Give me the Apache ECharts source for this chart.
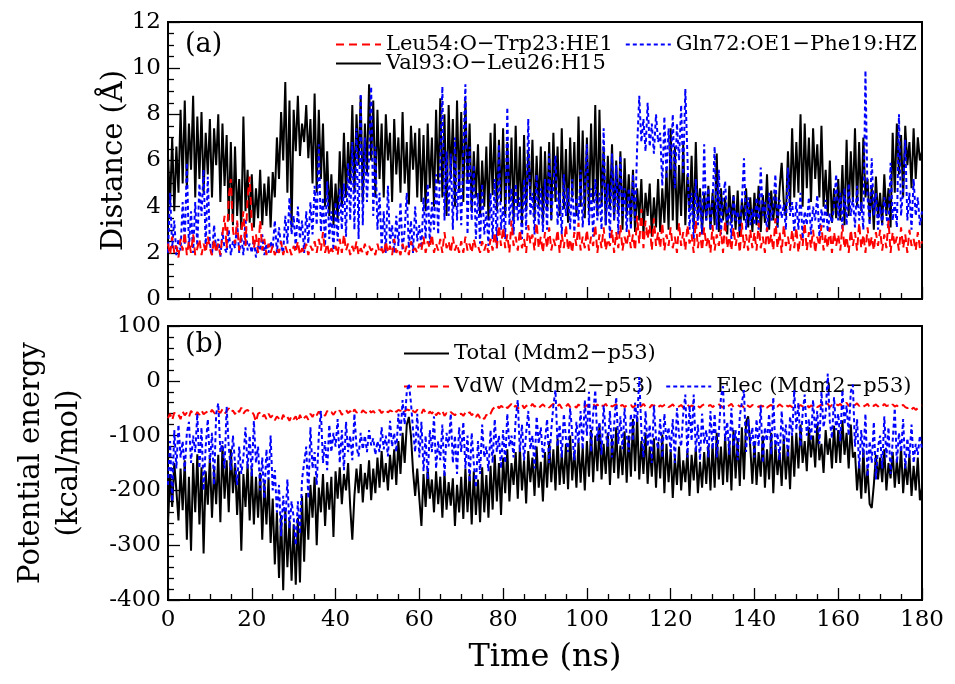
<!DOCTYPE html>
<html>
<head>
<meta charset="utf-8">
<script src="https://cdn.jsdelivr.net/npm/echarts@6/dist/echarts.min.js"></script>
<style>
html,body{margin:0;padding:0;background:#fff;}
#chart{width:955px;height:684px;}
</style>
</head>
<body>
<div id="chart"></div>
<script>
// time step (ns) between stored samples
const timeStep = 0.5;

// Panel (a): distances (Å), sampled every 0.5 ns from 0 to 180 ns
const valDist = [
6.2,4.1,7.0,3.8,6.6,4.6,8.2,5.0,8.6,4.8,7.6,5.6,8.8,4.4,7.9,5.2,8.1,4.6,7.2,5.4,
7.8,4.4,7.4,5.8,8.0,4.2,7.6,4.9,7.1,3.4,6.8,3.2,6.6,3.6,5.2,3.0,7.9,3.8,5.6,3.3,
5.4,3.1,4.8,3.5,5.6,3.2,5.0,3.6,5.3,3.1,5.5,4.4,7.0,5.2,8.1,6.0,9.4,4.6,8.6,3.1,
8.2,6.4,8.8,6.2,7.6,6.8,8.4,6.1,7.8,5.0,8.9,4.6,8.2,5.2,7.6,4.0,6.4,3.6,5.4,3.2,
5.0,3.4,6.4,4.0,7.2,4.4,6.8,5.0,8.4,4.6,8.0,5.8,8.8,4.2,7.6,5.4,9.3,6.0,8.6,4.4,
8.2,5.2,7.6,4.4,8.0,6.0,7.2,4.2,7.8,5.4,7.0,4.6,8.1,5.0,6.8,4.1,7.5,5.6,7.2,4.4,
7.4,4.2,7.1,3.8,7.6,4.8,7.0,4.0,8.2,5.0,8.7,4.4,8.0,3.6,8.4,5.2,7.8,4.0,8.6,4.6,
8.1,4.2,8.6,5.0,7.6,3.8,6.4,4.4,6.7,3.6,6.0,4.0,6.6,3.4,7.2,4.5,7.6,3.8,6.9,4.2,
7.4,3.6,6.8,4.2,7.0,3.4,7.5,4.0,6.6,3.2,7.1,3.8,6.4,4.4,6.9,3.5,6.2,4.0,6.6,3.3,
6.4,3.8,6.8,3.4,7.2,4.2,6.6,3.6,7.4,3.9,6.5,3.3,7.0,4.4,6.8,3.6,7.9,4.0,7.3,3.5,
7.0,3.8,7.6,4.2,8.4,3.6,8.2,4.0,6.6,3.2,6.2,3.9,6.7,3.4,6.0,3.7,6.4,3.0,6.1,3.6,
5.4,3.2,5.6,2.9,4.8,3.4,5.2,2.8,4.6,3.6,5.0,2.7,4.4,3.1,5.2,2.9,4.8,3.3,5.6,3.0,
7.4,3.4,6.6,3.0,5.8,3.6,6.7,3.2,5.4,3.8,6.2,3.1,6.8,3.5,4.8,2.9,4.6,3.4,4.9,3.0,
4.6,3.2,6.3,2.9,4.8,3.4,4.4,2.8,4.9,3.3,4.5,3.0,4.7,2.7,4.3,3.4,4.8,3.1,4.4,2.9,
4.6,3.2,4.9,2.9,4.5,3.3,5.4,3.0,4.7,3.4,4.6,3.1,4.8,5.9,4.2,3.6,6.4,4.0,7.4,4.4,
6.8,4.6,8.0,4.0,7.6,4.8,7.0,4.2,7.4,5.2,6.7,4.4,7.5,4.0,5.6,3.6,6.0,3.3,4.8,3.5,
5.2,3.4,5.8,3.2,6.9,3.6,6.4,4.2,7.4,4.0,6.8,3.8,7.0,4.4,5.2,3.4,4.9,3.0,5.3,3.5,
4.6,3.2,5.4,3.6,4.8,3.1,7.2,4.6,7.6,5.4,7.1,4.4,7.5,5.8,6.8,4.8,7.4,5.2,7.0,6.0,
6.4];

const glnDist = [
2.0,4.6,2.2,3.4,1.9,2.6,2.1,4.2,2.4,5.9,2.2,3.8,2.0,4.2,2.3,5.0,3.6,5.6,2.2,5.3,
2.4,1.9,3.2,2.1,2.6,1.8,2.9,2.2,2.0,3.0,1.9,2.5,2.2,3.3,2.0,2.7,1.9,3.5,2.1,2.4,
2.0,2.6,1.8,2.3,2.1,2.8,1.9,2.4,2.0,2.5,2.2,3.4,2.0,3.1,2.3,2.0,3.6,2.4,4.4,2.8,
3.6,2.2,4.0,2.6,3.4,2.0,3.8,2.4,4.2,2.8,4.9,3.2,6.7,2.9,4.4,2.3,5.1,2.6,3.8,2.1,
4.2,2.5,4.8,3.0,5.0,2.7,5.9,3.4,6.8,3.0,7.4,2.6,8.9,3.2,7.0,4.2,6.2,9.2,3.6,6.6,
3.0,4.6,2.2,3.8,2.0,4.9,2.4,3.2,2.0,3.6,2.3,4.2,2.1,3.0,4.6,2.2,3.4,2.0,4.0,2.5,
3.2,2.2,4.4,2.6,5.0,2.4,4.2,3.0,5.4,2.8,6.0,9.2,3.4,6.4,3.6,6.3,3.0,7.0,3.4,5.6,
3.2,6.4,9.3,2.8,6.6,3.4,5.8,2.6,4.6,2.4,5.0,2.8,3.8,2.3,4.6,2.6,5.2,2.2,6.7,3.0,
4.0,2.6,8.3,3.2,4.8,2.8,5.0,3.4,4.4,2.6,5.2,3.0,7.8,3.6,4.6,2.8,5.4,3.2,4.8,2.9,
5.2,3.0,6.3,3.4,5.0,6.2,3.2,4.6,2.8,5.4,3.6,4.8,3.0,5.2,2.9,4.4,3.4,5.6,3.1,4.8,
6.7,3.2,4.8,2.7,5.2,3.4,4.6,3.0,7.4,3.2,5.0,2.6,6.3,3.4,5.8,2.8,6.2,3.6,4.8,2.9,
4.8,3.0,5.4,3.4,6.6,8.8,6.8,7.8,6.4,8.5,6.6,7.6,6.3,8.0,6.8,7.2,4.9,7.9,5.2,7.4,
5.6,8.0,4.8,7.6,6.0,8.4,5.4,9.1,6.2,3.0,4.6,2.6,5.2,3.2,4.4,2.8,6.7,3.4,4.8,3.0,
4.2,6.6,3.0,5.6,2.8,4.4,5.1,3.2,4.0,2.6,4.5,3.4,3.8,2.9,4.2,6.1,3.0,4.4,3.2,3.9,
3.2,4.4,3.0,5.7,3.6,4.2,2.9,4.6,3.4,4.0,5.4,3.1,4.3,3.5,4.1,3.0,5.7,3.6,4.2,2.9,
4.2,3.0,4.6,2.6,3.8,3.2,4.4,2.8,4.0,3.4,4.5,2.7,3.9,3.1,4.3,2.9,3.7,3.3,4.0,5.4,
3.4,4.6,3.0,4.8,3.2,5.0,3.6,4.4,3.1,4.9,3.4,4.2,3.0,9.9,4.4,3.2,6.1,3.6,4.6,3.0,
4.0,3.2,4.4,3.6,3.0,5.9,3.4,4.2,3.1,8.0,3.6,4.8,6.9,3.4,4.6,3.0,5.2,3.6,4.4,3.2,
3.8];

const leuDist = [
2.4,1.9,2.7,2.0,2.3,1.8,2.6,2.1,2.9,1.9,2.5,2.0,2.8,1.9,2.2,2.6,1.9,2.4,2.0,2.7,
2.2,1.9,2.6,2.0,2.4,1.9,2.8,3.6,2.2,4.4,5.2,3.0,2.4,3.4,2.1,2.8,3.8,2.3,4.4,5.3,
3.2,2.2,2.8,2.0,3.4,2.1,2.6,1.9,2.4,2.0,2.3,1.9,2.2,2.0,2.5,1.9,2.3,2.0,2.2,1.9,
2.3,2.0,2.5,1.9,2.2,2.0,2.4,1.9,2.3,2.1,2.5,2.0,2.6,2.1,2.9,2.0,2.4,1.9,2.2,2.0,
2.3,1.9,2.6,2.0,2.8,2.1,2.4,1.9,2.3,2.0,2.5,1.9,2.2,2.0,2.4,1.9,2.3,2.1,2.2,1.9,
2.4,2.0,2.2,1.9,2.5,2.0,2.3,1.9,2.6,2.0,2.2,1.9,2.4,2.0,2.3,1.9,2.5,2.1,2.2,2.0,
2.4,2.1,2.7,2.0,2.5,2.2,2.8,2.0,2.4,2.1,2.6,2.0,2.9,2.2,2.5,2.0,2.7,2.1,2.4,2.0,
2.5,2.0,2.7,2.1,2.4,2.0,2.6,2.2,2.3,2.0,2.5,2.1,2.4,2.0,2.6,2.1,2.9,2.2,3.2,2.3,
3.1,2.2,2.8,2.0,3.4,2.3,2.7,2.1,3.0,2.2,2.6,2.0,3.2,2.4,2.8,2.1,3.3,2.2,2.7,2.0,
2.9,2.2,3.1,2.1,2.6,2.3,3.0,2.0,2.8,2.2,3.2,2.1,2.6,2.0,2.9,2.3,3.3,2.1,2.7,2.2,
3.0,2.1,2.7,2.3,3.2,2.0,2.8,2.2,3.1,2.1,2.6,2.3,3.0,2.0,2.9,2.2,3.2,2.1,2.7,2.3,
3.0,2.2,2.8,2.1,3.6,2.4,3.9,2.2,3.4,2.6,3.2,2.1,3.5,2.3,2.9,2.2,3.3,2.1,2.8,2.3,
3.1,2.2,2.7,2.0,3.3,2.3,2.9,2.1,3.2,2.4,2.8,2.0,3.4,2.2,2.9,2.1,3.1,2.3,2.7,2.0,
3.2,2.1,2.8,2.3,3.0,2.0,3.4,2.2,2.7,2.1,3.1,2.3,2.9,2.0,3.3,2.2,2.8,2.1,3.0,2.2,
2.9,2.1,3.3,2.2,2.7,2.0,3.1,2.3,2.8,2.1,3.5,2.2,2.9,2.0,3.2,2.3,2.7,2.1,3.0,2.2,
3.1,2.0,2.8,2.3,3.3,2.1,2.9,2.2,3.0,2.0,2.7,2.3,3.2,2.1,2.8,2.2,3.1,2.0,2.9,2.3,
2.8,2.1,3.2,2.2,2.7,2.0,3.0,2.3,2.9,2.1,3.3,2.2,2.8,2.0,3.1,2.2,2.7,2.1,2.9,2.3,
3.0,2.1,2.8,2.2,3.4,2.0,2.9,2.3,2.7,2.1,3.1,2.2,2.8,2.0,3.0,2.3,2.6,2.1,2.9,2.2,
2.5];

// Panel (b): potential energies (kcal/mol), sampled every 0.5 ns
const totalE = [
-262,-170,-230,-150,-200,-255,-160,-236,-145,-290,-175,-310,-150,-240,-134,-262,-158,-315,-165,-226,
-140,-250,-160,-225,-135,-258,-118,-215,-145,-240,-125,-205,-150,-245,-165,-310,-170,-230,-152,-255,
-160,-262,-175,-250,-168,-290,-185,-262,-178,-296,-215,-335,-240,-360,-245,-382,-232,-340,-255,-365,
-262,-372,-250,-368,-210,-330,-205,-290,-190,-250,-175,-300,-195,-240,-170,-265,-185,-235,-175,-285,
-165,-215,-158,-225,-170,-200,-150,-230,-290,-210,-160,-205,-152,-222,-168,-198,-145,-218,-160,-205,
-140,-195,-128,-185,-150,-200,-135,-180,-125,-190,-110,-170,-95,-150,-80,-66,-100,-165,-210,-160,
-215,-265,-170,-230,-160,-215,-180,-240,-165,-225,-175,-250,-168,-235,-185,-228,-178,-265,-190,-240,
-175,-252,-160,-240,-170,-262,-165,-245,-180,-258,-158,-240,-172,-250,-155,-235,-135,-220,-150,-245,
-140,-205,-125,-220,-150,-190,-130,-215,-122,-200,-145,-224,-128,-185,-140,-210,-120,-195,-148,-220,
-130,-195,-110,-185,-125,-200,-105,-190,-132,-188,-115,-198,-100,-182,-128,-195,-112,-186,-120,-200,
-110,-175,-90,-185,-100,-165,-80,-180,-115,-170,-95,-190,-105,-168,-85,-178,-118,-172,-92,-186,
-100,-175,-70,-165,-65,-180,-110,-170,-95,-188,-120,-175,-105,-195,-112,-178,-98,-205,-115,-185,
-125,-214,-140,-190,-120,-200,-145,-185,-128,-210,-135,-182,-122,-205,-148,-195,-130,-188,-118,-200,
-115,-195,-95,-180,-120,-190,-100,-185,-110,-200,-90,-178,-105,-192,-85,-180,-75,-65,-120,-188,
-110,-190,-130,-175,-100,-195,-125,-180,-95,-205,-115,-172,-130,-192,-105,-180,-120,-198,-100,-175,
-95,-160,-80,-150,-110,-165,-85,-140,-100,-158,-78,-145,-115,-168,-90,-135,-105,-160,-82,-150,
-90,-150,-72,-135,-95,-160,-80,-140,-130,-200,-150,-215,-125,-205,-160,-225,-232,-190,-135,-180,
-140,-185,-125,-200,-150,-178,-130,-195,-145,-188,-120,-205,-150,-190,-135,-210,-155,-200,-140,-218,
-195];

const vdwE = [
-68,-60,-72,-58,-64,-62,-70,-56,-63,-58,-66,-55,-60,-64,-57,-62,-54,-61,-58,-56,
-60,-53,-58,-62,-55,-59,-52,-60,-56,-50,-58,-54,-61,-52,-57,-49,-60,-55,-53,-58,
-56,-62,-75,-60,-58,-66,-62,-70,-60,-67,-63,-72,-65,-69,-74,-62,-70,-66,-73,-64,
-70,-65,-75,-62,-72,-68,-64,-71,-60,-66,-58,-63,-56,-61,-58,-64,-55,-60,-57,-62,
-56,-60,-54,-62,-57,-53,-59,-55,-61,-52,-58,-56,-60,-54,-57,-59,-53,-58,-55,-60,
-57,-53,-59,-55,-52,-58,-54,-56,-51,-57,-53,-55,-50,-56,-52,-54,-49,-55,-58,-53,
-55,-60,-52,-58,-62,-56,-60,-54,-63,-58,-61,-55,-64,-59,-62,-57,-60,-63,-58,-61,
-60,-64,-58,-62,-57,-63,-59,-66,-61,-68,-64,-70,-62,-66,-60,-52,-48,-44,-50,-46,
-48,-44,-50,-46,-42,-49,-45,-51,-47,-43,-50,-46,-44,-48,-42,-47,-45,-50,-46,-43,
-47,-44,-49,-45,-42,-48,-46,-43,-50,-45,-47,-42,-48,-44,-46,-49,-43,-47,-45,-48,
-44,-48,-45,-42,-47,-43,-49,-45,-46,-42,-48,-44,-47,-45,-43,-49,-46,-44,-48,-45,
-47,-44,-49,-45,-43,-48,-46,-42,-47,-45,-49,-44,-46,-43,-48,-45,-47,-44,-42,-48,
-46,-43,-48,-45,-47,-44,-49,-46,-43,-48,-45,-47,-44,-46,-49,-45,-43,-47,-46,-44,
-48,-45,-47,-43,-46,-49,-44,-47,-45,-42,-48,-46,-44,-47,-45,-49,-43,-46,-48,-44,
-46,-44,-48,-45,-47,-43,-49,-46,-44,-48,-45,-47,-43,-46,-49,-44,-47,-45,-48,-46,
-45,-48,-44,-47,-46,-43,-49,-45,-47,-44,-48,-46,-43,-47,-45,-42,-48,-44,-46,-43,
-45,-42,-47,-44,-40,-46,-43,-48,-44,-41,-46,-43,-47,-45,-42,-48,-44,-46,-43,-47,
-44,-47,-42,-46,-45,-48,-43,-47,-45,-49,-46,-44,-48,-50,-47,-52,-49,-53,-50,-47,
-45];

const elecE = [
-190,-110,-220,-90,-160,-80,-140,-110,-165,-95,-75,-150,-100,-130,-60,-160,-85,-200,-120,-70,
-150,-95,-190,-60,-41,-130,-110,-160,-47,-120,-163,-100,-150,-190,-120,-170,-140,-85,-160,-100,
-175,-73,-150,-120,-200,-140,-215,-125,-180,-100,-200,-163,-240,-190,-284,-210,-260,-180,-270,-220,
-250,-300,-220,-280,-180,-150,-120,-215,-85,-160,-130,-190,-100,-55,-150,-110,-163,-80,-130,-95,
-120,-70,-150,-90,-163,-75,-130,-100,-145,-60,-120,-138,-95,-125,-100,-130,-90,-118,-105,-135,
-110,-130,-85,-125,-100,-138,-73,-120,-95,-130,-60,-100,-35,-80,-20,-5,-40,-90,-130,-60,
-140,-75,-165,-100,-180,-90,-130,-65,-160,-110,-145,-80,-175,-95,-120,-60,-150,-100,-170,-85,
-130,-75,-160,-100,-185,-95,-150,-195,-110,-170,-80,-140,-120,-165,-90,-150,-70,-130,-100,-160,
-90,-150,-60,-120,-100,-140,-70,-35,-130,-80,-145,-95,-55,-125,-100,-160,-65,-115,-85,-140,
-110,-70,-150,-90,-45,-17,-120,-80,-140,-60,-105,-130,-50,-95,-145,-75,-115,-55,-125,-35,
-100,-20,-130,-60,-17,-110,-75,-135,-45,-95,-120,-55,-140,-80,-30,-115,-65,-125,-50,-100,
-130,-60,-110,-40,-75,7,-90,-140,-55,-120,-80,-150,-45,-105,-125,-70,-140,-60,-110,-85,
-130,-70,-150,-50,-100,-120,-60,-25,-140,-45,-110,-25,-130,-80,-145,-60,-115,-90,-140,-55,
-125,-60,-140,-95,-30,-10,-110,-75,-135,-50,-120,-90,-145,-65,-40,-17,-130,-70,-115,-85,
-140,-70,-120,-45,-150,-85,-110,-60,-135,-30,-125,-95,-145,-55,-115,-80,-140,-65,-100,-17,
-90,-40,-120,-60,-25,-100,-70,-110,-35,-95,-55,-115,-20,-85,-60,13,-75,-105,-30,-90,
-60,-110,-17,-80,-45,-100,-20,-7,-120,-70,-160,-90,-140,-60,-175,-110,-150,-75,-180,-120,
-100,-160,-65,-140,-85,-170,-110,-50,-150,-95,-130,-70,-160,-105,-140,-80,-150,-115,-135,-100,
-125];

// axis tick settings
const distTicks = {min: 0, max: 12, interval: 2};
const energyTicks = {min: -400, max: 100, interval: 100};
const timeTicks = {min: 0, max: 180, interval: 20};

const names = {
  leu: 'Leu54:O\u2212Trp23:HE1',
  gln: 'Gln72:OE1\u2212Phe19:HZ',
  val: 'Val93:O\u2212Leu26:H15',
  total: 'Total (Mdm2\u2212p53)',
  vdw: 'VdW (Mdm2\u2212p53)',
  elec: 'Elec (Mdm2\u2212p53)'
};

function pairs(arr){ return arr.map((v,i)=>[i*timeStep, v]); }

const FONT = 'DejaVu Serif';
const tickFont = {fontFamily: FONT, fontSize: 23, color: '#000'};

function xAx(gi, showLabel){
  return {
    type:'value', gridIndex: gi, min: timeTicks.min, max: timeTicks.max, interval: timeTicks.interval,
    axisLine:{show:true, onZero:false, lineStyle:{color:'#000', width:2}},
    axisTick:{show:true, inside:true, length:12, lineStyle:{color:'#000', width:1.3}},
    minorTick:{show:true, splitNumber:4, length:6, lineStyle:{color:'#000', width:1.3}},
    splitLine:{show:false}, minorSplitLine:{show:false},
    axisLabel:{show:showLabel, margin:9, ...tickFont},
    name: showLabel ? 'Time (ns)' : '', nameLocation:'middle', nameGap: 42,
    nameTextStyle:{fontFamily: FONT, fontSize: 32, color:'#000'}
  };
}
function yAx(gi, t, split, name, gap, moveOverlap){
  return {
    type:'value', gridIndex: gi, min: t.min, max: t.max, interval: t.interval,
    axisLine:{show:true, onZero:false, lineStyle:{color:'#000', width:2}},
    axisTick:{show:true, inside:true, length:12, lineStyle:{color:'#000', width:1.3}},
    minorTick:{show:true, splitNumber:split, length:6, lineStyle:{color:'#000', width:1.3}},
    splitLine:{show:false}, minorSplitLine:{show:false},
    axisLabel:{margin:7, ...tickFont},
    name: name, nameLocation:'middle', nameGap: gap, nameRotate: 90, nameMoveOverlap: moveOverlap,
    nameTextStyle:{fontFamily: FONT, fontSize: 29, color:'#000', lineHeight: 38}
  };
}

const chart = echarts.init(document.getElementById('chart'), null, {renderer:'canvas'});
const legendText = {fontFamily: FONT, fontSize: 21, color:'#000'};
const legendCommon = {itemWidth:45, itemHeight:12, textStyle:legendText, padding:0, itemStyle:{opacity:0}};
chart.setOption({
  animation:false,
  backgroundColor:'#fff',
  grid:[
    {left:168, right:33, top:22, height:277, show:true, borderColor:'#000', borderWidth:2, backgroundColor:'transparent'},
    {left:168, right:33, top:326, height:274, show:true, borderColor:'#000', borderWidth:2, backgroundColor:'transparent'}
  ],
  xAxis:[xAx(0,false), xAx(1,true)],
  yAxis:[
    yAx(0, distTicks, 4, 'Distance (\u00C5)', 35, false),
    yAx(1, energyTicks, 5, 'Potential energy\n(kcal/mol)', 80, true)
  ],
  legend:[
    {...legendCommon, data:[names.leu, names.gln], left:335, top:34, itemGap:12},
    {...legendCommon, data:[names.val], left:335, top:53},
    {...legendCommon, data:[names.total], left:403, top:343},
    {...legendCommon, data:[names.vdw, names.elec], left:403, top:376, itemGap:12}
  ],
  graphic:[
    {type:'text', left:185, top:31, style:{text:'(a)', font:'27px "DejaVu Serif"', fill:'#000'}},
    {type:'text', left:185, top:331, style:{text:'(b)', font:'27px "DejaVu Serif"', fill:'#000'}}
  ],
  series:[
    {name:names.val, type:'line', xAxisIndex:0, yAxisIndex:0, data:pairs(valDist), symbol:'none', lineStyle:{color:'#000', width:2}, itemStyle:{color:'#000'}, z:2},
    {name:names.gln, type:'line', xAxisIndex:0, yAxisIndex:0, data:pairs(glnDist), symbol:'none', lineStyle:{color:'#0000ff', width:2, type:[4,3]}, itemStyle:{color:'#0000ff'}, z:3},
    {name:names.leu, type:'line', xAxisIndex:0, yAxisIndex:0, data:pairs(leuDist), symbol:'none', lineStyle:{color:'#ff0000', width:2, type:[8,5]}, itemStyle:{color:'#ff0000'}, z:4},
    {name:names.total, type:'line', xAxisIndex:1, yAxisIndex:1, data:pairs(totalE), symbol:'none', lineStyle:{color:'#000', width:2}, itemStyle:{color:'#000'}, z:2},
    {name:names.vdw, type:'line', xAxisIndex:1, yAxisIndex:1, data:pairs(vdwE), symbol:'none', lineStyle:{color:'#ff0000', width:2, type:[8,5]}, itemStyle:{color:'#ff0000'}, z:3},
    {name:names.elec, type:'line', xAxisIndex:1, yAxisIndex:1, data:pairs(elecE), symbol:'none', lineStyle:{color:'#0000ff', width:2, type:[4,3]}, itemStyle:{color:'#0000ff'}, z:4}
  ]
});
</script>
</body>
</html>
